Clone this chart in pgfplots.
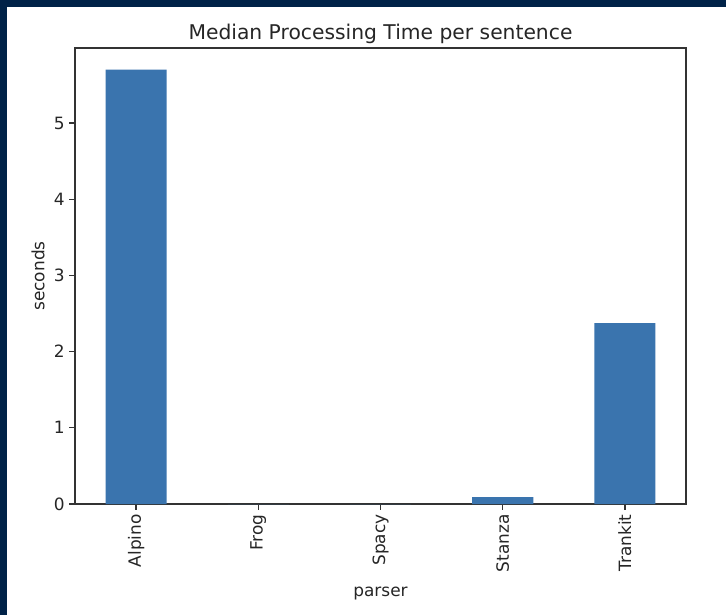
\documentclass[border=0pt]{standalone}
\usepackage{fontspec}
\setmainfont{DejaVu Sans}
\usepackage{pgfplots}
\pgfplotsset{compat=1.18}
\definecolor{navybg}{RGB}{0,34,72}
\definecolor{barblue}{RGB}{58,116,174}
\begin{document}
\begin{tikzpicture}
\fill[navybg] (0,0) rectangle (522.72pt,442.8pt);
\fill[white] (5.04pt,0) rectangle (522.72pt,437.76pt);
\begin{axis}[
  at={(54pt,79.92pt)}, anchor=south west,
  scale only axis, width=439.92pt, height=328.32pt,
  xmin=-0.5, xmax=4.5, ymin=0, ymax=5.985,
  xtick={0,1,2,3,4},
  xticklabels={Alpino,Frog,Spacy,Stanza,Trankit},
  ytick={0,1,2,3,4,5},
  tick align=outside, tick pos=left,
  major tick length=4.3pt,
  axis line style={line width=0.9pt, black!80},
  every tick/.style={black!80, line width=0.9pt},
  /pgf/number format/assume math mode=true,
  tick label style={font=\fontsize{12.2}{14}\selectfont, text=black!85},
  xticklabel style={rotate=90, anchor=east, inner sep=3pt},
  yticklabel style={inner sep=3pt},
  title={Median Processing Time per sentence},
  title style={font=\fontsize{14.6}{17}\selectfont, text=black!85, yshift=-6.5pt},
  xlabel={parser}, ylabel={seconds},
  xlabel style={yshift=-4pt},
  label style={font=\fontsize{12.2}{14}\selectfont, text=black!85},
  ybar, bar width=0.5, bar shift=0pt,
]
\addplot[fill=barblue, draw=none] coordinates {(0,5.70) (1,0) (2,0) (3,0.09) (4,2.375)};
\end{axis}
\pgfresetboundingbox
\useasboundingbox (0,0) rectangle (522.72pt,442.8pt);
\end{tikzpicture}
\end{document}
